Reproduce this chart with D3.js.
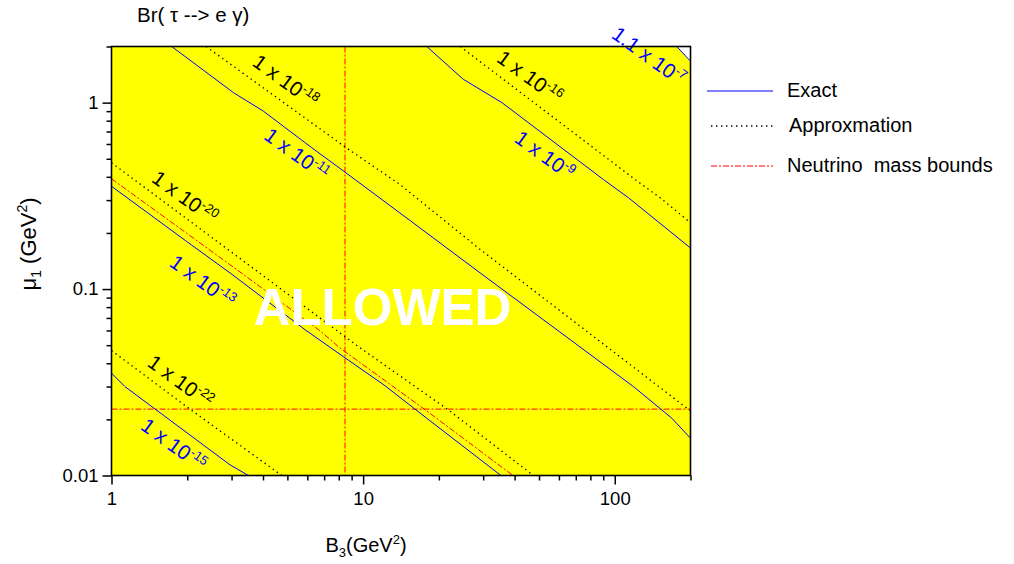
<!DOCTYPE html>
<html><head><meta charset="utf-8">
<script src="https://cdn.jsdelivr.net/npm/d3@7"></script>
<style>
body{margin:0;background:#fff;}
text{font-family:Arial,"Liberation Sans",sans-serif;}
</style></head><body>
<svg id="chart" width="1014" height="564"></svg>
<script>
// ---------- data ----------
const xDomain=[1,200];
const yDomain=[0.01,2];
const xTickLabels=[1,10,100];
const xMinorTicks=[2,3,4,5,6,7,8,9,20,30,40,50,60,70,80,90,200];
const yTickLabels=[0.01,0.1,1];
const yMinorTicks=[0.02,0.03,0.04,0.05,0.06,0.07,0.08,0.09,0.2,0.3,0.4,0.5,0.6,0.7,0.8,0.9,2];

// Exact contours (blue)
const exact15_B3=[1.0,1.13,2.96,3.50];
const exact15_mu=[0.0354,0.0300,0.0114,0.0100];
const exact13_B3=[1.0,1.99,2.96,5.88,8.47,12.1,17.8,35.3];
const exact13_mu=[0.356,0.180,0.122,0.0605,0.0428,0.0306,0.0204,0.0100];
const exact11_B3=[1.735,3.05,4.01,6.25,8.47,14.0,29.2,118.6,168.5,200];
const exact11_mu=[2.0,1.132,0.901,0.573,0.424,0.256,0.122,0.0300,0.0203,0.01585];
const exact9_B3=[17.9,25.0,35.6,90.1,113.3,200];
const exact9_mu=[2.0,1.334,1.0,0.387,0.309,0.166];
const exact7_B3=[176.4,200];
const exact7_mu=[2.0,1.667];

// Approximation contours (black dotted)
const approx22_B3=[1.0,2.05,4.75];
const approx22_mu=[0.0468,0.0227,0.0100];
const approx20_B3=[1.0,3.72,9.72,21.6,47.5];
const approx20_mu=[0.476,0.127,0.0484,0.0227,0.0100];
const approx18_B3=[2.375,8.47,14.0,29.2,200];
const approx18_mu=[2.0,0.579,0.364,0.163,0.0222];
const approx16_B3=[24.3,120.4,151.4,200];
const approx16_mu=[2.0,0.387,0.309,0.227];

// Neutrino mass bounds (red dash-dot)
const nu_B3=[1.0,3.15,6.66,8.09,17.5,39.4];
const nu_mu=[0.3905,0.127,0.0605,0.0483,0.0227,0.0100];
const nuVerticalB3=8.47;
const nuHorizontalMu=0.0227;

// Contour labels
const labelMant=["1","1","1.1","1","1","1","1","1","1"];
const labelExp=["-18","-16","-7","-11","-9","-20","-13","-22","-15"];
const labelKind=["approx","approx","exact","exact","exact","approx","exact","approx","exact"];
const labelB3=[4.98,46.5,138.1,5.51,53.3,1.978,2.33,1.906,1.788];
const labelMu=[1.334,1.402,1.817,0.541,0.534,0.3177,0.1123,0.0326,0.01495];

const legendLabels=["Exact","Approxmation","Neutrino  mass bounds"];

// ---------- layout ----------
const L=111.5,R=690.5,T=46.5,B=475.5;
const svg=d3.select("#chart");
const x=d3.scaleLog().domain(xDomain).range([L,R]);
const y=d3.scaleLog().domain(yDomain).range([B,T]);
const BLUE="#0000ff", RED="#ff0000";

svg.append("defs").append("clipPath").attr("id","clip")
  .append("rect").attr("x",L).attr("y",T).attr("width",R-L).attr("height",B-T);

// background yellow
svg.append("rect").attr("x",L).attr("y",T).attr("width",R-L).attr("height",B-T).attr("fill","#ffff00");
// non-allowed corner (white) above 1.1e-7 contour
const cornerPts=[[exact7_B3[0],exact7_mu[0]],[exact7_B3[1],exact7_mu[1]],[xDomain[1],yDomain[1]]];
svg.append("path").attr("d","M"+cornerPts.map(p=>[x(p[0]),y(p[1])].join(",")).join("L")+"Z").attr("fill","#fff");

const plot=svg.append("g").attr("clip-path","url(#clip)");
const line=d3.line().x(d=>x(d[0])).y(d=>y(d[1]));
const zip=(a,b)=>a.map((v,i)=>[v,b[i]]);

// neutrino bounds
plot.append("path").attr("d",line(zip(nu_B3,nu_mu))).attr("fill","none").attr("stroke",RED).attr("stroke-width",1).attr("stroke-dasharray","6,2,2,2");
plot.append("line").attr("x1",x(nuVerticalB3)).attr("x2",x(nuVerticalB3)).attr("y1",T).attr("y2",B).attr("stroke",RED).attr("stroke-width",1).attr("stroke-dasharray","6,2,2,2");
plot.append("line").attr("x1",L).attr("x2",R).attr("y1",y(nuHorizontalMu)).attr("y2",y(nuHorizontalMu)).attr("stroke",RED).attr("stroke-width",1).attr("stroke-dasharray","6,2,2,2");

// approximations
[[approx22_B3,approx22_mu],[approx20_B3,approx20_mu],[approx18_B3,approx18_mu],[approx16_B3,approx16_mu]].forEach(s=>{
  plot.append("path").attr("d",line(zip(s[0],s[1]))).attr("fill","none").attr("stroke","#000").attr("stroke-width",1.3).attr("stroke-dasharray","1.4,3.6");
});
// exact
[[exact15_B3,exact15_mu],[exact13_B3,exact13_mu],[exact11_B3,exact11_mu],[exact9_B3,exact9_mu],[exact7_B3,exact7_mu]].forEach(s=>{
  plot.append("path").attr("d",line(zip(s[0],s[1]))).attr("fill","none").attr("stroke",BLUE).attr("stroke-width",1);
});

// ALLOWED
svg.append("text").attr("x",x(11.94)).attr("y",y(0.0644)).attr("text-anchor","middle")
  .attr("font-size",51).attr("font-weight","bold").attr("fill","#fff").text("ALLOWED");

// contour labels
labelMant.forEach((m,i)=>{
  const g=svg.append("g").attr("transform",`translate(${x(labelB3[i])},${y(labelMu[i])}) rotate(36)`);
  const t=g.append("text").attr("text-anchor","middle").attr("font-size",20.5).attr("dy","0.45em")
    .attr("fill",labelKind[i]==="exact"?BLUE:"#000");
  t.append("tspan").text(m+" x 10");
  t.append("tspan").attr("font-size",13).attr("dy",-8).text(labelExp[i]);
});

// frame
svg.append("rect").attr("x",L).attr("y",T).attr("width",R-L).attr("height",B-T).attr("fill","none").attr("stroke","#000").attr("stroke-width",1.6);

// axes
const fmt=d=>String(d);
const xMaj=svg.append("g").attr("transform",`translate(0,${B})`).call(d3.axisBottom(x).tickValues(xTickLabels).tickFormat(fmt).tickSize(9).tickPadding(7));
const xMin=svg.append("g").attr("transform",`translate(0,${B})`).call(d3.axisBottom(x).tickValues(xMinorTicks).tickFormat("").tickSize(5));
const yMaj=svg.append("g").attr("transform",`translate(${L},0)`).call(d3.axisLeft(y).tickValues(yTickLabels).tickFormat(fmt).tickSize(9).tickPadding(4));
const yMin=svg.append("g").attr("transform",`translate(${L},0)`).call(d3.axisLeft(y).tickValues(yMinorTicks).tickFormat("").tickSize(5));
[xMaj,xMin,yMaj,yMin].forEach(a=>{
  a.select(".domain").remove();
  a.selectAll(".tick line").attr("stroke","#000").attr("stroke-width",1.5);
  a.selectAll(".tick text").attr("font-size",18.5).attr("font-family","Arial, Liberation Sans, sans-serif").attr("fill","#000");
});

// axis titles
const xt=svg.append("text").attr("x",366).attr("y",552).attr("text-anchor","middle").attr("font-size",20);
xt.append("tspan").text("B");
xt.append("tspan").attr("font-size",13).attr("dy",5).text("3");
xt.append("tspan").attr("dy",-5).text("(GeV");
xt.append("tspan").attr("font-size",13).attr("dy",-8).text("2");
xt.append("tspan").attr("dy",8).text(")");

const yt=svg.append("text").attr("transform","translate(36,244) rotate(-90)").attr("text-anchor","middle").attr("font-size",22);
yt.append("tspan").text("\u03bc");
yt.append("tspan").attr("font-size",14).attr("dy",5).text("1");
yt.append("tspan").attr("dy",-5).text(" (GeV");
yt.append("tspan").attr("font-size",14).attr("dy",-9).text("2");
yt.append("tspan").attr("dy",9).text(")");

// title
svg.append("text").attr("x",137).attr("y",22).attr("font-size",20.5).text("Br( \u03c4 --> e \u03b3)");

// legend
const legY=[91,126,166];
const legStroke=[BLUE,"#000",RED];
const legDash=[null,"1.4,3.6","6,2,2,2"];
const legX1=[707,711,711];
const legTextX=[787,789,787];
legendLabels.forEach((s,i)=>{
  svg.append("line").attr("x1",legX1[i]).attr("x2",773).attr("y1",legY[i]).attr("y2",legY[i])
    .attr("stroke",legStroke[i]).attr("stroke-width",i===1?1.3:1).attr("stroke-dasharray",legDash[i]);
  svg.append("text").attr("x",legTextX[i]).attr("y",legY[i]+6).attr("font-size",20).style("white-space","pre").text(s);
});
</script>
</body></html>
